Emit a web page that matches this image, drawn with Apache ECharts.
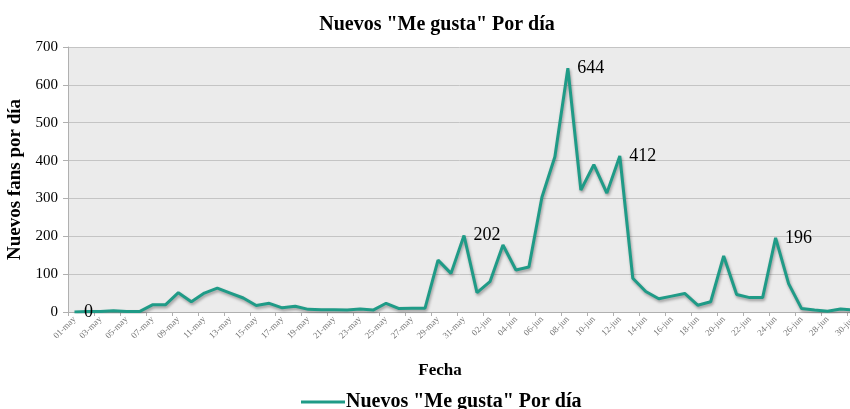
<!DOCTYPE html>
<html>
<head>
<meta charset="utf-8">
<script src="https://cdn.jsdelivr.net/npm/echarts@6/dist/echarts.min.js"></script>
<style>
  html, body { margin: 0; padding: 0; background: #ffffff; }
  #chart { width: 850px; height: 409px; }
</style>
</head>
<body>
<div id="chart"></div>
<script>
// ---- Data ----
var categories = [
  "01-may","02-may","03-may","04-may","05-may","06-may","07-may","08-may","09-may","10-may",
  "11-may","12-may","13-may","14-may","15-may","16-may","17-may","18-may","19-may","20-may",
  "21-may","22-may","23-may","24-may","25-may","26-may","27-may","28-may","29-may","30-may",
  "31-may","01-jun","02-jun","03-jun","04-jun","05-jun","06-jun","07-jun","08-jun","09-jun",
  "10-jun","11-jun","12-jun","13-jun","14-jun","15-jun","16-jun","17-jun","18-jun","19-jun",
  "20-jun","21-jun","22-jun","23-jun","24-jun","25-jun","26-jun","27-jun","28-jun","29-jun",
  "30-jun"
];
var newLikes = [
  0, 1, 1, 3, 1, 1, 19, 19, 51, 27,
  50, 63, 50, 37, 17, 23, 11, 15, 7, 6,
  6, 5, 8, 5, 23, 9, 10, 10, 137, 102,
  202, 51, 80, 177, 111, 119, 303, 410, 644, 322,
  389, 314, 412, 89, 54, 35, 42, 49, 18, 27,
  148, 46, 38, 38, 196, 75, 9, 5, 2, 8,
  5
];
var labelledPoints = ["01-may", "31-may", "08-jun", "12-jun", "24-jun"];
var yTicks = [0, 100, 200, 300, 400, 500, 600, 700];
var seriesName = 'Nuevos "Me gusta" Por día';

var serif = '"Liberation Serif", "DejaVu Serif", serif';
var lineColor = '#1f9b87';

var seriesData = newLikes.map(function (v, i) {
  var item = { value: v };
  if (labelledPoints.indexOf(categories[i]) >= 0) {
    item.label = { show: true };
  }
  return item;
});

var chart = echarts.init(document.getElementById('chart'), null, { renderer: 'canvas' });
chart.setOption({
  animation: false,
  backgroundColor: '#ffffff',
  title: {
    text: seriesName,
    left: 432,
    textAlign: 'center',
    top: 10,
    textStyle: { fontFamily: serif, fontWeight: 'bold', fontSize: 20, color: '#000' }
  },
  legend: {
    data: [{ name: seriesName, itemStyle: { color: lineColor } }],
    left: 296,
    top: 387,
    icon: 'rect',
    itemWidth: 44,
    itemHeight: 3,
    itemGap: 0,
    itemStyle: { color: lineColor, borderWidth: 0 },
    textStyle: { fontFamily: serif, fontWeight: 'bold', fontSize: 20, color: '#000', padding: [0, 0, 0, -4] }
  },
  grid: {
    left: 68,
    width: 792,
    top: 47,
    height: 265,
    outerBoundsMode: 'none',
    containLabel: false,
    show: true,
    backgroundColor: '#ebebeb',
    borderWidth: 0
  },
  xAxis: {
    type: 'category',
    data: categories,
    boundaryGap: true,
    name: 'Fecha',
    nameLocation: 'middle',
    nameGap: 50,
    nameTextStyle: { fontFamily: serif, fontWeight: 'bold', fontSize: 17, color: '#000', padding: [0, 48, 0, 0] },
    axisLine: { show: true, lineStyle: { color: '#b0b0b0', width: 1 } },
    axisTick: { show: true, interval: 1, length: 4, lineStyle: { color: '#b0b0b0' } },
    axisLabel: {
      interval: 1,
      rotate: 45,
      margin: 6,
      fontFamily: serif,
      fontSize: 9,
      color: '#777'
    },
    splitLine: { show: false }
  },
  yAxis: {
    type: 'value',
    min: yTicks[0],
    max: yTicks[yTicks.length - 1],
    interval: 100,
    name: 'Nuevos fans por día',
    nameLocation: 'middle',
    nameRotate: 90,
    nameGap: 37,
    nameTextStyle: { fontFamily: serif, fontWeight: 'bold', fontSize: 19, color: '#000' },
    axisLine: { show: true, lineStyle: { color: '#b0b0b0', width: 1 } },
    axisTick: { show: true, length: 5, lineStyle: { color: '#b0b0b0' } },
    axisLabel: { fontFamily: serif, fontSize: 15, color: '#000', margin: 10 },
    splitLine: { show: true, lineStyle: { color: '#c4c4c4', width: 1 } }
  },
  series: [{
    name: seriesName,
    type: 'line',
    data: seriesData,
    symbol: 'circle',
    symbolSize: 1,
    showSymbol: true,
    showAllSymbol: true,
    smooth: false,
    color: lineColor,
    itemStyle: { color: 'rgba(0,0,0,0)', borderWidth: 0 },
    lineStyle: {
      color: lineColor,
      width: 3,
      shadowColor: 'rgba(0,0,0,0.35)',
      shadowBlur: 3,
      shadowOffsetX: 1,
      shadowOffsetY: 2
    },
    label: {
      show: false,
      position: 'right',
      distance: 9,
      fontFamily: serif,
      fontSize: 18,
      color: '#000'
    }
  }]
});
</script>
</body>
</html>
